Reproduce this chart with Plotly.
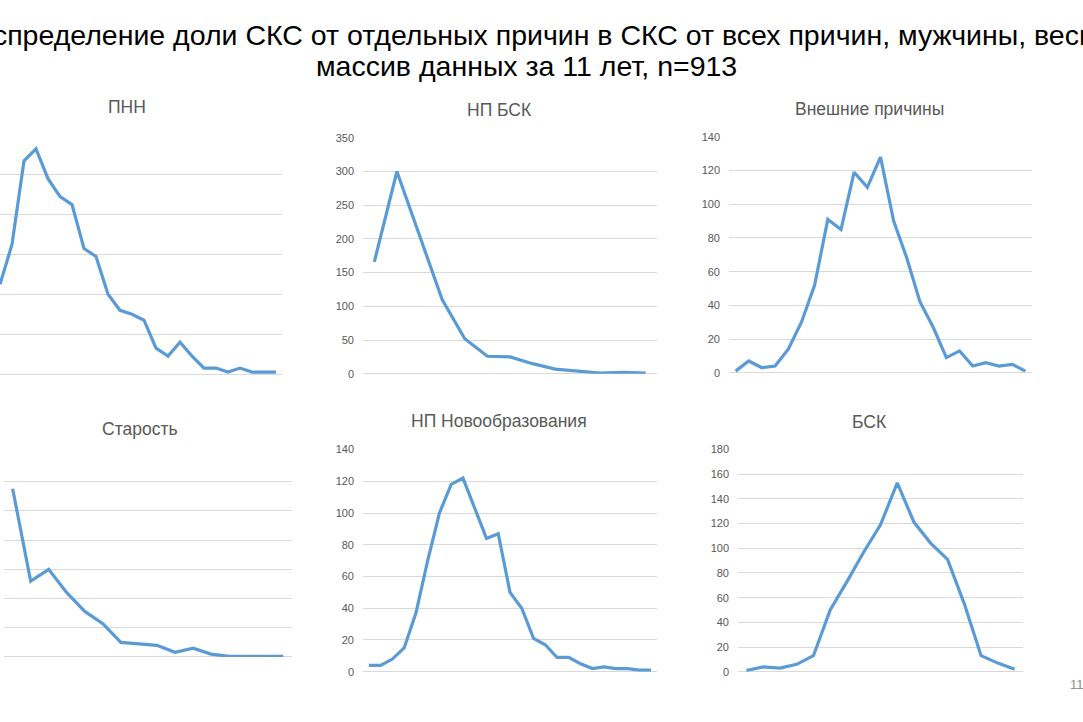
import plotly.graph_objects as go

# ---- data ----
pnn_values = [45, 65, 107, 113, 98, 89, 85, 63, 59, 40, 32, 30, 27, 13, 9, 16, 9, 3, 3, 1, 3, 1, 1, 1]
np_bsk_values = [166, 300, 205, 110, 52, 26, 25, 15, 7, 4, 1, 2, 1]
external_values = [1, 7, 3, 4, 14, 30, 52, 91, 85, 119, 110, 128, 90, 68, 42, 27, 9, 13, 4, 6, 4, 5, 1]
old_age_values = [288, 130, 150, 110, 78, 57, 25, 23, 20, 8, 15, 5, 1, 1, 1, 1]
np_neo_values = [4, 4, 8, 15, 37, 70, 100, 118, 122, 103, 84, 87, 50, 40, 21, 17, 9, 9, 5, 2, 3, 2, 2, 1, 1]
bsk_values = [1, 4, 3, 6, 13, 50, 73, 97, 119, 153, 121, 104, 91, 55, 13, 7, 2]

panel_titles = ["ПНН", "НП БСК", "Внешние причины", "Старость", "НП Новообразования", "БСК"]
title_line1 = "Распределение доли СКС от отдельных причин в СКС от всех причин, мужчины, весь"
title_line2 = "массив данных за 11 лет, n=913"
page_number = "11"

W, H = 1083, 722
LINE = "#5B9BD5"
GRID = "#D9D9D9"
TXT = "#595959"
FONT = "Liberation Sans Narrow, Liberation Sans, sans-serif"
TICKFONT = "Liberation Sans, sans-serif"

# panels: values, pixel box (x0, x1, ytop, ybottom), y max, dtick, x range, show ticks, title pos
panels = [
    (pnn_values, (0, 282, 131, 374.3), 120, 20, [0, len(pnn_values) - 0.5], False, (127, 103)),
    (np_bsk_values, (363, 657, 134, 374), 350, 50, None, True, (499, 106)),
    (external_values, (729, 1032, 133, 373), 140, 20, None, True, (869, 105)),
    (old_age_values, (3.6, 292.3, 454, 662), 350, 50, None, False, (140, 430)),
    (np_neo_values, (363, 657, 451, 677), 140, 20, None, True, (499, 422)),
    (bsk_values, (738, 1023, 451, 677), 180, 20, None, True, (869, 423)),
]

fig = go.Figure()
layout = dict(
    width=W, height=H,
    margin=dict(l=0, r=0, t=0, b=0),
    paper_bgcolor="white", plot_bgcolor="white",
    showlegend=False,
    font=dict(family=FONT, color=TXT),
)
annotations = []
for i, (vals, box, ymax, dt, xr, showticks, tpos) in enumerate(panels):
    n = i + 1
    xa = "x" if n == 1 else f"x{n}"
    ya = "y" if n == 1 else f"y{n}"
    xs = list(range(len(vals)))
    fig.add_trace(go.Scatter(x=xs, y=vals, mode="lines", xaxis=xa, yaxis=ya,
                             line=dict(color=LINE, width=3.2), hoverinfo="skip"))
    x0, x1, yt, yb = box
    xkey = "xaxis" if n == 1 else f"xaxis{n}"
    ykey = "yaxis" if n == 1 else f"yaxis{n}"
    layout[xkey] = dict(
        domain=[max(0, x0 / W), x1 / W], anchor=ya,
        range=xr if xr else [-0.5, len(vals) - 0.5],
        showgrid=False, zeroline=False, showticklabels=False, ticks="", showline=False,
    )
    layout[ykey] = dict(
        domain=[1 - yb / H, 1 - yt / H], anchor=xa,
        range=[0, ymax], dtick=dt, tick0=0,
        showgrid=True, gridcolor=GRID, gridwidth=1,
        zeroline=True, zerolinecolor=GRID, zerolinewidth=1,
        showline=False, ticks="", showticklabels=showticks,
        tickfont=dict(size=11, color=TXT, family=TICKFONT), ticklabelstandoff=8,
    )
    annotations.append(dict(text=panel_titles[i], x=tpos[0] / W, y=1 - tpos[1] / H,
                            xref="paper", yref="paper", showarrow=False,
                            xanchor="center", yanchor="middle",
                            font=dict(size=17.5, color=TXT, family=FONT)))

annotations.append(dict(text=title_line1, x=526 / W, y=1 - 29 / H, xref="paper", yref="paper",
                        showarrow=False, xanchor="center", yanchor="middle",
                        font=dict(size=28.5, color="black", family=FONT)))
annotations.append(dict(text=title_line2, x=526 / W, y=1 - 61 / H, xref="paper", yref="paper",
                        showarrow=False, xanchor="center", yanchor="middle",
                        font=dict(size=28.5, color="black", family=FONT)))
annotations.append(dict(text=page_number, x=1068 / W, y=1 - 690 / H, xref="paper", yref="paper",
                        showarrow=False, xanchor="left", yanchor="middle",
                        font=dict(size=13, color="#8C8C8C", family=TICKFONT)))
layout["annotations"] = annotations
fig.update_layout(**layout)
fig.write_html("out.html")
